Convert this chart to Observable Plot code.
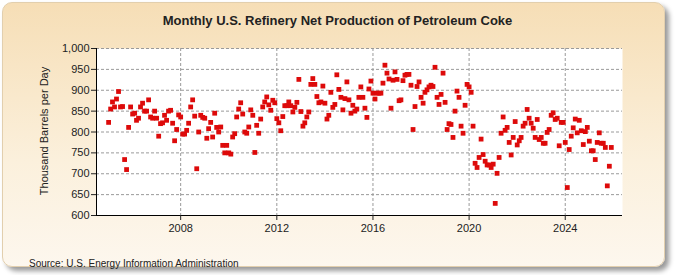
<!DOCTYPE html>
<html><head><meta charset="utf-8">
<script src="https://cdn.jsdelivr.net/npm/d3@7"></script>
<script src="https://cdn.jsdelivr.net/npm/@observablehq/plot@0.6"></script>
<style>
body{margin:0;background:#fff;font-family:"Liberation Sans",Arial,sans-serif;}
#wrap{position:relative;width:675px;height:275px;overflow:hidden;background:#fff;}
#card{position:absolute;left:2px;top:2px;width:663px;height:265px;border-radius:10px;background:linear-gradient(#f6deb6,#fbf0dc 60%,#fdf7ee);box-shadow:4px 4px 5px #9a9a9a;border:1px solid #e2cfae;box-sizing:border-box;}
#title{position:absolute;left:0;width:675px;top:13px;text-align:center;font-weight:bold;font-size:13px;color:#222;}
#ylab{position:absolute;left:44px;top:131px;transform:translate(-50%,-50%) rotate(-90deg);font-size:11px;white-space:nowrap;color:#222;}
#src{position:absolute;left:29px;top:258px;font-size:10px;color:#222;}
#chart{position:absolute;left:0;top:0;}
</style></head>
<body>
<div id="wrap">
  <div id="card"></div>
  <div id="chart"></div>
  <div id="title">Monthly U.S. Refinery Net Production of Petroleum Coke</div>
  <div id="ylab">Thousand Barrels per Day</div>
  <div id="src">Source: U.S. Energy Information Administration</div>
</div>
<script>
// Monthly values, thousand barrels per day, Jan..Dec of each year
const startYear = 2005;
const v2005 = [823, 855, 872, 860, 879, 897, 860, 861, 734, 710, 811, 860];
const v2006 = [843, 845, 828, 833, 860, 869, 850, 850, 877, 836, 833, 850];
const v2007 = [833, 790, 820, 822, 840, 828, 850, 852, 821, 779, 806, 841];
const v2008 = [836, 795, 795, 804, 821, 860, 877, 838, 712, 800, 840, 835];
const v2009 = [833, 785, 808, 823, 788, 845, 811, 800, 812, 768, 750, 768];
const v2010 = [750, 747, 788, 796, 836, 855, 870, 843, 800, 797, 812, 853];
const v2011 = [840, 751, 816, 797, 831, 860, 872, 884, 865, 852, 876, 870];
const v2012 = [832, 822, 803, 837, 863, 863, 872, 863, 848, 859, 871, 926];
const v2013 = [849, 814, 822, 836, 848, 914, 928, 914, 885, 870, 872, 910];
const v2014 = [869, 831, 840, 895, 859, 866, 937, 902, 883, 853, 880, 920];
const v2015 = [877, 845, 864, 850, 855, 883, 908, 883, 857, 835, 903, 922];
const v2016 = [893, 879, 893, 893, 893, 917, 960, 941, 927, 857, 924, 944];
const v2017 = [926, 875, 877, 923, 936, 938, 938, 912, 806, 861, 909, 920];
const v2018 = [883, 869, 895, 901, 908, 912, 909, 955, 883, 866, 890, 941];
const v2019 = [871, 806, 820, 818, 787, 850, 898, 883, 814, 797, 864, 914];
const v2020 = [908, 895, 814, 725, 715, 739, 783, 746, 730, 721, 721, 715];
const v2021 = [723, 629, 701, 739, 797, 836, 804, 811, 775, 745, 787, 825];
const v2022 = [769, 779, 787, 814, 821, 854, 833, 821, 809, 787, 830, 782];
const v2023 = [787, 773, 773, 799, 806, 840, 846, 830, 833, 767, 823, 823];
const v2024 = [775, 667, 758, 790, 810, 831, 798, 828, 803, 770, 801, 811];
const v2025 = [778, 755, 755, 734, 775, 798, 773, 773, 763, 671, 718, 763];
const yearly = [v2005,v2006,v2007,v2008,v2009,v2010,v2011,v2012,v2013,v2014,v2015,v2016,v2017,v2018,v2019,v2020,v2021,v2022,v2023,v2024,v2025];
const xTickYears = [2008, 2012, 2016, 2020, 2024];
const yTicks = [600, 650, 700, 750, 800, 850, 900, 950, 1000];

const data = [];
yearly.forEach((arr, i) => arr.forEach((v, j) => data.push({date: new Date(Date.UTC(startYear + i, j, 1)), value: v})));
const xTicks = xTickYears.map(y => new Date(Date.UTC(y, 0, 1)));
const x0 = new Date(Date.UTC(2004, 6, 1));
const x1 = new Date(Date.UTC(2026, 4, 20));

const chart = Plot.plot({
  width: 675, height: 275,
  marginLeft: 96, marginRight: 53, marginTop: 48, marginBottom: 60,
  style: {background: "transparent", fontFamily: "Liberation Sans, Arial, sans-serif", fontSize: "11px", color: "#222"},
  x: {type: "utc", domain: [x0, x1]},
  y: {domain: [600, 1000]},
  marks: [
    Plot.frame({fill: "white", stroke: "none"}),
    Plot.gridY(yTicks, {stroke: "#9a9a9a", strokeOpacity: 1, strokeDasharray: "3,2"}),
    Plot.gridX(xTicks, {stroke: "#9a9a9a", strokeOpacity: 1, strokeDasharray: "3,2"}),
    Plot.ruleX([x0], {stroke: "#000"}),
    Plot.ruleY([600], {stroke: "#000"}),
    Plot.axisY(yTicks, {tickFormat: d3.format(","), tickSize: 5, tickPadding: 2, label: null}),
    Plot.axisX(xTicks, {tickFormat: d3.utcFormat("%Y"), tickSize: 5, tickPadding: 4, label: null}),
    Plot.dot(data, {x: "date", y: "value", symbol: "square", r: 2.7, fill: "#dd0a0a", stroke: "none"})
  ]
});
document.getElementById("chart").appendChild(chart);
</script>
</body></html>
